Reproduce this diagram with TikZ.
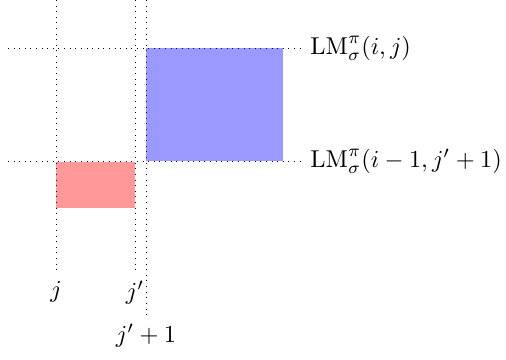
\documentclass[tikz,border=0pt]{standalone}
\begin{document}
\begin{tikzpicture}[x=0.41pt,y=-0.41pt,
  guide/.style={dotted,line width=0.3pt},
  lbl/.style={inner sep=3.33pt}]
\useasboundingbox (0,0) rectangle (506,360);
\fill[blue!40] (146,48) rectangle (283,161);
\fill[red!40] (56,162) rectangle (135,208);
% vertical guides
\coordinate (vjt) at (56,0);   \coordinate (vjb) at (56,273);
\coordinate (vkt) at (135,0);  \coordinate (vkb) at (135,273);
\coordinate (vlt) at (146,0);  \coordinate (vlb) at (146,316);
\draw[guide] (vjt) -- (vjb) node[below,lbl] (lj) {$j$};
\draw[guide] (vkt) -- (vkb) node[below,lbl] (lk) {$j'$};
\draw[guide] (vlt) -- (vlb) node[below,lbl] (ll) {$j'+1$};
% horizontal guides
\coordinate (h1l) at (8,48);  \coordinate (h1r) at (302,48);
\coordinate (h2l) at (8,161); \coordinate (h2r) at (302,161);
\draw[guide] (h1l) -- (h1r) node[right,lbl] (l1) {$\mathrm{LM}^{\pi}_{\sigma}(i,j)$};
\draw[guide] (h2l) -- (h2r) node[right,lbl] (l2) {$\mathrm{LM}^{\pi}_{\sigma}(i-1,j'+1)$};
\end{tikzpicture}
\end{document}
